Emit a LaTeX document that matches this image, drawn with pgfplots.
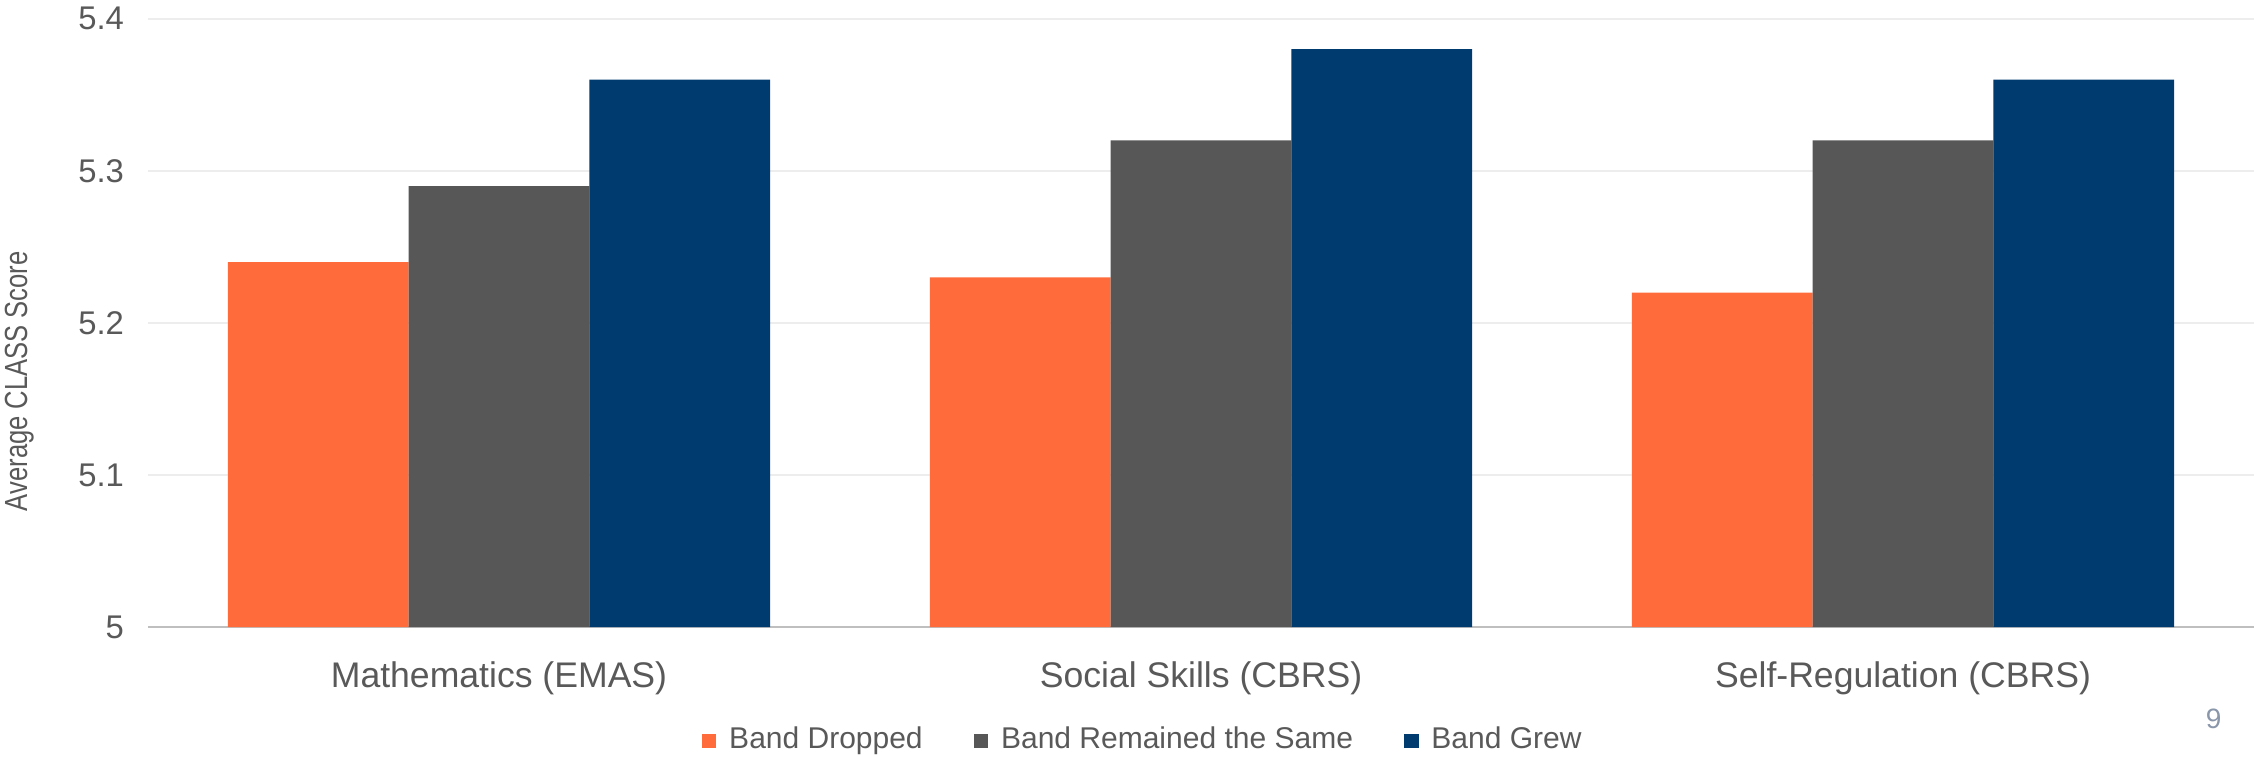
\documentclass[border=0pt]{standalone}
\usepackage{pgfplots}
\pgfplotsset{compat=1.18}
\usepackage{fontspec}
\setmainfont{Liberation Sans}
\newfontfamily\narrowfont[FakeStretch=0.8]{Liberation Sans}
\definecolor{cOrange}{HTML}{FF6B3B}
\definecolor{cGray}{HTML}{575757}
\definecolor{cBlue}{HTML}{003B70}
\definecolor{cText}{HTML}{595959}
\definecolor{cGrid}{HTML}{EDEDED}
\definecolor{cAxis}{HTML}{BFBFBF}
\definecolor{cNum}{HTML}{8A96AA}
\begin{document}
\begin{tikzpicture}
\path[use as bounding box] (-37pt,-32.5pt) rectangle (526.5pt,156.8pt);
\begin{axis}[
  scale only axis,
  width=526.5pt, height=152.1pt,
  ymin=5, ymax=5.4,
  xmin=-0.5, xmax=2.5,
  ytick={5,5.1,5.2,5.3,5.4},
  xtick={0,1,2},
  xticklabels={Mathematics (EMAS),Social Skills (CBRS),Self-Regulation (CBRS)},
  ybar=0pt, bar width=45.2pt,
  axis x line=bottom, axis y line=left,
  x axis line style={draw=cAxis, line width=0.5pt, -},
  y axis line style={draw=none},
  major tick length=0pt,
  ymajorgrids, grid style={draw=cGrid, line width=0.4pt},
  /pgf/number format/assume math mode=true,
  yticklabel style={font=\fontsize{8.2}{9}\selectfont, text=cText, xshift=-2.5pt},
  xticklabel style={font=\fontsize{8.9}{10}\selectfont, text=cText, yshift=-5pt},
  legend columns=3,
  legend style={draw=none, fill=none, inner sep=0pt, at={(axis description cs:0.2627,-0.187)}, anchor=west,
    font=\fontsize{7.5}{9}\selectfont, text=cText,
    nodes={inner sep=0pt},
    /tikz/every odd column/.style={column sep=3.2pt},
    /tikz/every even column/.style={column sep=12.8pt}},
  legend image code/.code={\fill[#1] (0pt,-1.8pt) rectangle (3.6pt,1.8pt);},
]
\addplot[fill=cOrange, draw=none] coordinates {(0,5.24) (1,5.23) (2,5.22)};
\addplot[fill=cGray, draw=none] coordinates {(0,5.29) (1,5.32) (2,5.32)};
\addplot[fill=cBlue, draw=none] coordinates {(0,5.36) (1,5.38) (2,5.36)};
\legend{Band Dropped, Band Remained the Same, Band Grew}
\end{axis}
\node[rotate=90, font=\narrowfont\fontsize{8}{9}\selectfont, text=cText] at (-32.2pt,61.5pt) {Average CLASS Score};
\node[font=\fontsize{7}{8}\selectfont, text=cNum] at (516.4pt,-23pt) {9};
\end{tikzpicture}
\end{document}
